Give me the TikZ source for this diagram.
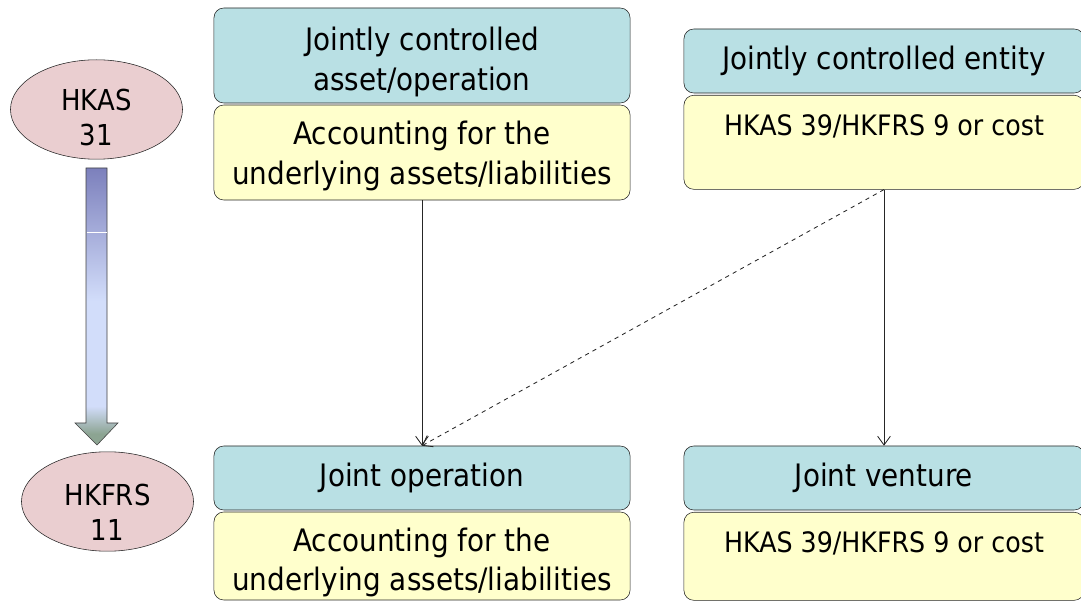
\documentclass[tikz,border=0pt]{standalone}
\usepackage{fontspec}
\setmainfont{DejaVu Sans}[FakeStretch=0.9]
\usepackage{xcolor}
\usetikzlibrary{positioning,arrows.meta,shapes.geometric,calc}
\definecolor{headblue}{RGB}{185,224,228}
\definecolor{bodyyellow}{RGB}{255,255,204}
\definecolor{stdpink}{RGB}{234,206,208}
\definecolor{shafttop}{RGB}{124,128,188}
\definecolor{shaftmid}{RGB}{210,221,250}
\definecolor{shaftend}{RGB}{140,164,146}
% colours sit between 25bp and 75bp, the part that covers the path
\pgfdeclareverticalshading{shaftshade}{100bp}{
  color(0bp)=(shaftend); color(27bp)=(shaftend); color(32bp)=(shaftmid);
  color(51bp)=(shaftmid); color(75bp)=(shafttop); color(100bp)=(shafttop)}
\tikzset{
  head/.style  = {draw=black!85, rounded corners=7pt, fill=headblue, align=center,
                  font=\fontsize{22}{28}\selectfont, minimum width=10.4cm, inner sep=0pt},
  body/.style  = {draw=black!85, rounded corners=7pt, fill=bodyyellow, align=center,
                  font=\fontsize{22}{28}\selectfont, minimum width=10.4cm, inner sep=0pt},
  note/.style  = {body, anchor=north, minimum width=10cm, text height=1cm,
                  font=\fontsize{20}{24}\selectfont},
  std/.style   = {draw=black!85, ellipse, fill=stdpink, align=center, inner sep=0pt,
                  minimum width=4.3cm, minimum height=2.35cm, font=\fontsize{20.5}{25}\selectfont},
  link/.style  = {-{Straight Barb[length=2.2mm,width=3.2mm]}, draw=black!85, line width=0.6pt},
}
% two lines, set a little lower than the box centre
\newcommand{\sink}[2]{\raisebox{-#1}[\height][\depth]{\begin{tabular}{@{}c@{}}#2\end{tabular}}}
\begin{document}
\begin{tikzpicture}[x=0.025cm,y=-0.025cm]
  \useasboundingbox (0,0) rectangle (1081,603);
  % standards
  \node[std] (hkas) at (96.5,109.5) {\sink{8pt}{HKAS\\31}};
  \node[std] (hkfrs) at (107.5,501.5) {\sink{10pt}{HKFRS\\11}};
  % transition arrow
  \shade[shading=shaftshade, draw=black!75]
    (86,168) -- (107,168) -- (107,423) -- (118,423) -- (97,445) -- (75,423) -- (86,423) -- cycle;
  \draw[white, line width=0.5pt] (86.5,232) -- (106.5,232);
  % old classification
  \node[head, minimum height=2.375cm] (jca) at (422,55.5) {\sink{5pt}{Jointly controlled\\asset/operation}};
  \node[body, minimum height=2.375cm] (jca-acc) at (422,152.5) {\sink{3pt}{Accounting for the\\underlying assets/liabilities}};
  \node[head, minimum height=1.6cm, minimum width=10cm] (jce) at (884,61) {Jointly controlled entity};
  \node[note, text depth=1.35cm] (jce-acc) at (884,95) {HKAS 39/HKFRS 9 or cost};
  % new classification
  \node[head, minimum height=1.6cm] (jo) at (422,478) {Joint operation};
  \node[body, minimum height=2.2cm] (jo-acc) at (422,556) {\sink{5pt}{Accounting for the\\underlying assets/liabilities}};
  \node[head, minimum height=1.6cm, minimum width=10cm] (jv) at (884,478) {Joint venture};
  \node[note, text depth=1.2cm] (jv-acc) at (884,512) {HKAS 39/HKFRS 9 or cost};
  % connectors
  \draw[link] (jca-acc.south) -- (jo.north);
  \draw[link] (jce-acc.south) -- (jv.north);
  \draw[link, dashed] (jce-acc.south) -- (jo.north);
\end{tikzpicture}
\end{document}
